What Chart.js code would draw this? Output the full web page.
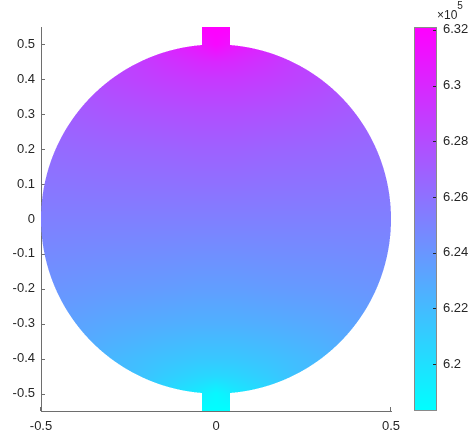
<!DOCTYPE html>
<html>
<head>
<meta charset="utf-8">
<script src="https://cdn.jsdelivr.net/npm/chart.js@4.4.1/dist/chart.umd.min.js"></script>
<style>
html, body { margin: 0; padding: 0; background: #fff; }
</style>
</head>
<body>
<canvas id="fieldChart" width="469" height="439"></canvas>
<script>
// tick labels
var xTicks = [-0.5, 0, 0.5];
var yTicks = [-0.5, -0.4, -0.3, -0.2, -0.1, 0, 0.1, 0.2, 0.3, 0.4, 0.5];
var cbTicks = [620000, 622000, 624000, 626000, 628000, 630000, 632000];
var cbRange = [618320, 632100];

// domain: disc with two small electrode tabs
var discRadius = 0.5;
var tabHalfWidth = 0.04;
var tabEnd = 0.55;

// field values, rows top (y=0.55) to bottom (y=-0.55)
var gridX = [-0.5, -0.3, -0.15, -0.05, 0, 0.05, 0.15, 0.3, 0.5];
var gridY = [0.55, 0.5, 0.45, 0.4, 0.3, 0.2, 0.1, 0, -0.1, -0.2, -0.3, -0.4, -0.45, -0.5, -0.55];
var fieldValues = [
    [627140, 628240, 630030, 632100, 632100, 632100, 630030, 628240, 627140],
    [627140, 628240, 630030, 631000, 631690, 631000, 630030, 628240, 627140],
    [627140, 628240, 629340, 629900, 630030, 629900, 629340, 628240, 627140],
    [627140, 628240, 628790, 629070, 629070, 629070, 628790, 628240, 627140],
    [626860, 627420, 627690, 627830, 627830, 627830, 627690, 627420, 626860],
    [626310, 626590, 626730, 626860, 626860, 626860, 626730, 626590, 626310],
    [625760, 625900, 625970, 626040, 626040, 626040, 625970, 625900, 625760],
    [625210, 625210, 625210, 625210, 625210, 625210, 625210, 625210, 625210],
    [624660, 624520, 624450, 624380, 624380, 624380, 624450, 624520, 624660],
    [624110, 623830, 623690, 623560, 623560, 623560, 623690, 623830, 624110],
    [623560, 623010, 622730, 622590, 622590, 622590, 622730, 623010, 623560],
    [623280, 622180, 621630, 621350, 621350, 621350, 621630, 622180, 623280],
    [623280, 622180, 621080, 620530, 620390, 620530, 621080, 622180, 623280],
    [623280, 622180, 620390, 619420, 618730, 619420, 620390, 622180, 623280],
    [623280, 622180, 620390, 618320, 618320, 618320, 620390, 622180, 623280]
];

var textColor = '#262626';
var axisColor = '#6e6e6e';
var fontFamily = '"Liberation Sans", Arial, Helvetica, sans-serif';

// cool colormap
function coolColor(v) {
    var t = (v - cbRange[0]) / (cbRange[1] - cbRange[0]);
    t = Math.max(0, Math.min(1, t));
    return [Math.round(255 * t), Math.round(255 * (1 - t)), 255];
}

function fieldAt(x, y) {
    var i = 0;
    while (i < gridX.length - 2 && x > gridX[i + 1]) i++;
    var j = 0;
    while (j < gridY.length - 2 && y < gridY[j + 1]) j++;
    var fx = Math.max(0, Math.min(1, (x - gridX[i]) / (gridX[i + 1] - gridX[i])));
    var fy = Math.max(0, Math.min(1, (gridY[j] - y) / (gridY[j] - gridY[j + 1])));
    var a = fieldValues[j][i], b = fieldValues[j][i + 1];
    var c = fieldValues[j + 1][i], d = fieldValues[j + 1][i + 1];
    return (a * (1 - fx) + b * fx) * (1 - fy) + (c * (1 - fx) + d * fx) * fy;
}

function insideShape(x, y) {
    return x * x + y * y <= discRadius * discRadius ||
        (Math.abs(x) <= tabHalfWidth && Math.abs(y) <= tabEnd);
}

var nodes = [];
gridY.forEach(function(y) {
    gridX.forEach(function(x) { nodes.push({x: x, y: y}); });
});

var fieldPlugin = {
    id: 'fieldPlugin',
    beforeDatasetsDraw: function(chart) {
        var ctx = chart.ctx;
        var area = chart.chartArea;
        var xs = chart.scales.x, ys = chart.scales.y;

        // inward ticks (under the surface, like matlab)
        ctx.save();
        ctx.strokeStyle = axisColor;
        ctx.lineWidth = 1;
        ctx.beginPath();
        yTicks.forEach(function(v) {
            var p = Math.round(ys.getPixelForValue(v)) + 0.5;
            ctx.moveTo(area.left, p);
            ctx.lineTo(area.left + 4, p);
        });
        xTicks.forEach(function(v) {
            var p = Math.round(xs.getPixelForValue(v)) - 0.5;
            ctx.moveTo(p, area.bottom);
            ctx.lineTo(p, area.bottom - 4);
        });
        ctx.stroke();
        ctx.restore();

        var x0 = Math.floor(area.left), y0 = Math.floor(area.top);
        var w = Math.ceil(area.right) - x0, h = Math.ceil(area.bottom) - y0;
        var off = document.createElement('canvas');
        off.width = w; off.height = h;
        var octx = off.getContext('2d');
        var img = octx.createImageData(w, h);
        var sub = [1 / 6, 0.5, 5 / 6];
        for (var py = 0; py < h; py++) {
            for (var px = 0; px < w; px++) {
                var cover = 0;
                for (var a = 0; a < 3; a++) {
                    for (var b = 0; b < 3; b++) {
                        var dx = xs.getValueForPixel(x0 + px + sub[a]);
                        var dy = ys.getValueForPixel(y0 + py + sub[b]);
                        if (insideShape(dx, dy)) cover++;
                    }
                }
                if (!cover) continue;
                var cx = xs.getValueForPixel(x0 + px + 0.5);
                var cy = ys.getValueForPixel(y0 + py + 0.5);
                var col = coolColor(fieldAt(cx, cy));
                var k = (py * w + px) * 4;
                img.data[k] = col[0];
                img.data[k + 1] = col[1];
                img.data[k + 2] = col[2];
                img.data[k + 3] = Math.round(255 * cover / 9);
            }
        }
        octx.putImageData(img, 0, 0);
        ctx.drawImage(off, x0, y0);
    },
    afterDraw: function(chart) {
        var ctx = chart.ctx;
        var cb = chart.scales.cb;
        var barLeft = chart.chartArea.right + 23;
        var barWidth = 23;
        var top = Math.round(cb.top), bottom = Math.round(cb.bottom);
        ctx.save();
        for (var r = top; r < bottom; r++) {
            var col = coolColor(cb.getValueForPixel(r + 0.5));
            ctx.fillStyle = 'rgb(' + col.join(',') + ')';
            ctx.fillRect(barLeft, r, barWidth, 1);
        }
        ctx.strokeStyle = '#8a8a8a';
        ctx.lineWidth = 1;
        ctx.strokeRect(barLeft + 0.5, top + 0.5, barWidth - 1, bottom - top - 1);
        ctx.strokeStyle = textColor;
        ctx.beginPath();
        cbTicks.forEach(function(v) {
            var p = Math.round(cb.getPixelForValue(v)) + 0.5;
            ctx.moveTo(barLeft + barWidth - 1, p);
            ctx.lineTo(barLeft + barWidth - 4, p);
        });
        ctx.stroke();

        // exponent label
        ctx.fillStyle = textColor;
        ctx.textAlign = 'left';
        ctx.textBaseline = 'alphabetic';
        ctx.font = '12px ' + fontFamily;
        ctx.fillText('\u00d710', 437, 19);
        var wx = ctx.measureText('\u00d710').width;
        ctx.font = '10px ' + fontFamily;
        ctx.fillText('5', 437 + wx, 9);
        ctx.restore();
    }
};

function setTicks(list) {
    return function(axis) {
        axis.ticks = list.map(function(v) { return {value: v}; });
    };
}

var tickFont = {family: fontFamily, size: 13};

var ctx = document.getElementById('fieldChart').getContext('2d');
var fieldChart = new Chart(ctx, {
    type: 'scatter',
    data: {
        datasets: [{
            data: nodes,
            pointRadius: 0,
            pointHoverRadius: 0
        }]
    },
    options: {
        responsive: false,
        animation: false,
        devicePixelRatio: 1,
        layout: { padding: { top: 27, left: 0, right: 0, bottom: 0 } },
        plugins: {
            legend: { display: false },
            tooltip: { enabled: false }
        },
        scales: {
            x: {
                type: 'linear',
                min: -0.5,
                max: 0.5,
                afterBuildTicks: setTicks(xTicks),
                afterFit: function(axis) { axis.height = 28; },
                grid: { drawOnChartArea: false, drawTicks: false },
                border: { display: true, color: axisColor, width: 1 },
                ticks: {
                    autoSkip: false,
                    maxRotation: 0,
                    padding: 8,
                    color: textColor,
                    font: tickFont,
                    callback: function(v) { return String(v); }
                }
            },
            y: {
                type: 'linear',
                min: -0.55,
                max: 0.55,
                afterBuildTicks: setTicks(yTicks),
                afterFit: function(axis) { axis.width = 41; },
                grid: { drawOnChartArea: false, drawTicks: false },
                border: { display: true, color: axisColor, width: 1 },
                ticks: {
                    autoSkip: false,
                    padding: 6,
                    color: textColor,
                    font: tickFont,
                    callback: function(v) { return String(v); }
                }
            },
            cb: {
                type: 'linear',
                position: 'right',
                min: cbRange[0],
                max: cbRange[1],
                afterBuildTicks: setTicks(cbTicks),
                afterFit: function(axis) { axis.width = 78; },
                grid: { drawOnChartArea: false, drawTicks: true, tickLength: 48, color: 'rgba(0,0,0,0)' },
                border: { display: false },
                ticks: {
                    autoSkip: false,
                    padding: 4,
                    color: textColor,
                    font: tickFont,
                    callback: function(v) { return String(Number((v / 1e5).toFixed(2))); }
                }
            }
        }
    },
    plugins: [fieldPlugin]
});
</script>
</body>
</html>
